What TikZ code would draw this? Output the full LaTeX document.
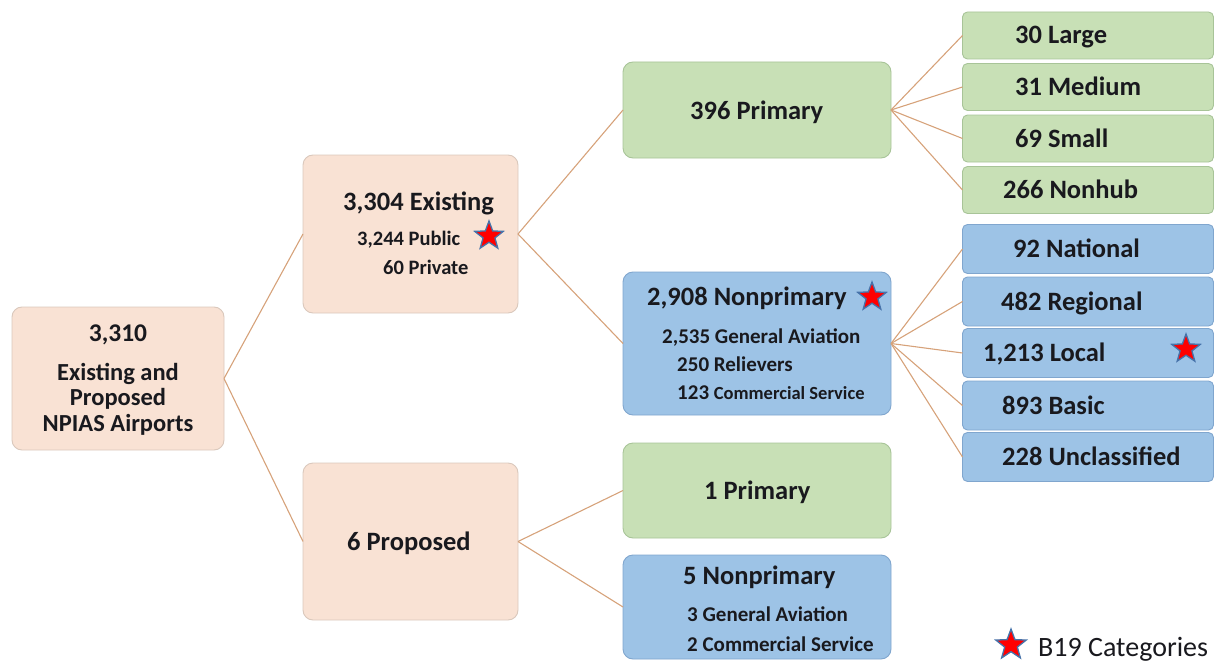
\documentclass[tikz,border=0pt]{standalone}
\usepackage{fontspec}
\setmainfont{Carlito}
\usetikzlibrary{shapes.geometric}
\definecolor{peach}{RGB}{249,226,212}
\definecolor{peachline}{RGB}{218,200,188}
\definecolor{grn}{RGB}{200,224,182}
\definecolor{grnline}{RGB}{168,196,152}
\definecolor{blu}{RGB}{157,195,230}
\definecolor{bluline}{RGB}{128,166,206}
\definecolor{conn}{RGB}{214,162,122}
\definecolor{txt}{RGB}{25,25,30}
\definecolor{starblue}{RGB}{70,115,170}
\tikzset{
  box/.style={rectangle, rounded corners=10pt, line width=0.9pt, inner sep=0pt, outer sep=0pt},
  pbox/.style={box, fill=peach, draw=peachline},
  gbox/.style={box, fill=grn, draw=grnline},
  bluebox/.style={box, fill=blu, draw=bluline},
  smallbox/.style={rounded corners=5pt, minimum width=251pt},
  big/.style={font=\bfseries\fontsize{26.5}{28}\selectfont, text=txt, inner sep=0pt, anchor=base west},
  mid/.style={font=\bfseries\fontsize{21}{23}\selectfont, text=txt, inner sep=0pt, anchor=base west},
  rootlbl/.style={font=\bfseries\fontsize{24.5}{26}\selectfont, text=txt, inner sep=0pt, anchor=base},
  conn/.style={draw=conn, line width=1.1pt},
  b19/.style={star, star points=5, star point ratio=2.4, fill=red, draw=starblue, line width=1.3pt, minimum size=30pt, inner sep=0pt}
}
\begin{document}
\begin{tikzpicture}[x=1pt,y=-1pt]
\useasboundingbox (0,0) rectangle (1224,661);
% main boxes
\node[pbox, minimum width=212pt, minimum height=143pt] (root) at (118,378.5) {};
\node[pbox, minimum width=215pt, minimum height=158pt] (exist) at (410.5,234) {};
\node[pbox, minimum width=215pt, minimum height=157pt] (prop) at (410.5,541.5) {};
\node[gbox, minimum width=268pt, minimum height=96pt] (prim) at (757,110) {};
\node[bluebox, minimum width=268pt, minimum height=143pt] (nonp) at (757,343.5) {};
\node[gbox, minimum width=268pt, minimum height=95pt] (prim1) at (757,490.5) {};
\node[bluebox, minimum width=268pt, minimum height=104pt] (nonp5) at (757,607) {};
% right column
\node[gbox, smallbox, minimum height=47pt] (large) at (1088,35.5) {};
\node[gbox, smallbox, minimum height=47pt] (medium) at (1088,87) {};
\node[gbox, smallbox, minimum height=47pt] (small) at (1088,138.5) {};
\node[gbox, smallbox, minimum height=47pt] (nonhub) at (1088,190) {};
\node[bluebox, smallbox, minimum height=49pt] (national) at (1088,249) {};
\node[bluebox, smallbox, minimum height=49pt] (regional) at (1088,301.5) {};
\node[bluebox, smallbox, minimum height=49pt] (local) at (1088,353) {};
\node[bluebox, smallbox, minimum height=49pt] (basic) at (1088,405.5) {};
\node[bluebox, smallbox, minimum height=49pt] (uncl) at (1088,457) {};
% connectors
\draw[conn] (root.east) -- (exist.west);
\draw[conn] (root.east) -- (prop.west);
\draw[conn] (exist.east) -- (prim.west);
\draw[conn] (exist.east) -- (nonp.west);
\draw[conn] (prop.east) -- (prim1.west);
\draw[conn] (prop.east) -- (nonp5.west);
\foreach \n in {large,medium,small,nonhub} \draw[conn] (prim.east) -- (\n.west);
\foreach \n in {national,regional,local,basic,uncl} \draw[conn] (nonp.east) -- (\n.west);
% root text
\node[rootlbl, font=\bfseries\fontsize{25.5}{27}\selectfont] (t310) at (118,341) {3,310};
\node[rootlbl] (t1) at (118,380) {Existing and};
\node[rootlbl] (t2) at (118,405) {Proposed};
\node[rootlbl] (t3) at (118,431) {NPIAS Airports};
% existing
\node[big] (tex) at (343,210) {3,304 Existing};
\node[mid, font=\bfseries\fontsize{20.5}{22}\selectfont] (tpub) at (357,245) {3,244 Public};
\node[mid, font=\bfseries\fontsize{20.5}{22}\selectfont] (tpriv) at (383,274) {60 Private};
\node[b19] (s1) at (489,236) {};
% proposed
\node[big] (tpr) at (347,550) {6 Proposed};
% primary
\node[big] (tprim) at (690,119) {396 Primary};
% nonprimary
\node[big] (tnp) at (647,305) {2,908 Nonprimary};
\node[b19] (s2) at (872,297) {};
\node[mid] (tga) at (662,343) {2,535 General Aviation};
\node[mid] (trel) at (677,371) {250 Relievers};
\node[mid] (tcs) at (677,399) {123 {\fontsize{18.5}{20}\selectfont Commercial Service}};
% proposed children
\node[big] (tp1) at (704,499) {1 Primary};
\node[big] (tnp5) at (683,584) {5 Nonprimary};
\node[mid] (tga5) at (687,621) {3 General Aviation};
\node[mid] (tcs5) at (687,651) {2 Commercial Service};
% right labels
\node[big] (l1) at (1015,44) {30 Large};
\node[big] (l2) at (1015,95.5) {31 Medium};
\node[big] (l3) at (1015,147) {69 Small};
\node[big] (l4) at (1003,198.5) {266 Nonhub};
\node[big] (l5) at (1013,257.5) {92 National};
\node[big] (l6) at (1001,310) {482 Regional};
\node[big] (l7) at (983,361.5) {1,213 Local};
\node[b19] (s3) at (1186,349) {};
\node[big] (l8) at (1002,414) {893 Basic};
\node[big] (l9) at (1002,465.5) {228 Unclassified};
% legend
\node[b19, minimum size=32pt] (s4) at (1011,645) {};
\node[font=\fontsize{28}{30}\selectfont, text=txt, inner sep=0pt, anchor=base west] (leg) at (1038,656) {B19 Categories};
\end{tikzpicture}
\end{document}
